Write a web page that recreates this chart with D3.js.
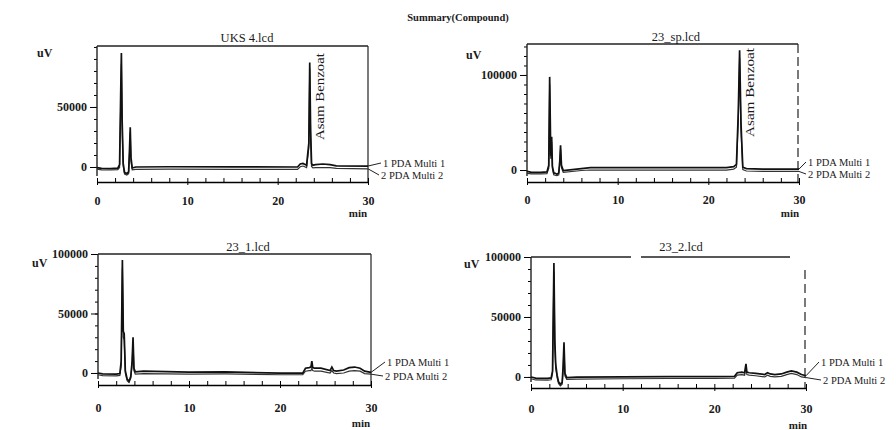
<!DOCTYPE html>
<html>
<head>
<meta charset="utf-8">
<script src="https://cdn.jsdelivr.net/npm/d3@7"></script>
<style>
body { margin: 0; background: #fff; }
svg { display: block; }
text { font-family: "Liberation Serif", serif; fill: #1a1a1a; }
</style>
</head>
<body>
<div id="chart"></div>
<script>
// ---- data (time in min, signal in uV) ----
const xTickValues = [0, 10, 20, 30];
const yTickValuesSmall = [0, 50000];
const yTickValuesBig = [0, 100000];
const yTickValuesFull = [0, 50000, 100000];

// UKS 4.lcd
const uks4Time   = [0, 0.5, 1.5, 2.3, 2.5, 2.62, 2.7, 2.78, 2.9, 3.05, 3.3, 3.5, 3.6, 3.68, 3.76, 3.9, 4.3, 8, 15, 22.2, 22.5, 22.8, 23.2, 23.45, 23.55, 23.65, 23.75, 23.9, 24.2, 25, 25.8, 26.5, 30];
const uks4Multi1 = [-500, -1200, -1300, -1000, 2000, 60000, 95000, 40000, 3000, -4500, -5500, -4000, 15000, 33000, 8000, -800, 0, 200, 100, 0, 2500, 3000, 1500, 20000, 87000, 30000, 3000, 1500, 2000, 2500, 2000, 1000, 800];
const uks4Multi2 = [-1800, -2400, -2500, -2200, -500, 50000, 86000, 34000, 800, -6000, -6800, -5500, 11000, 29000, 5000, -2300, -2000, -1800, -1900, -2000, 200, 800, -500, 16000, 82000, 24000, 500, -800, -500, -400, -600, -1200, -1500];

// 23_sp.lcd
const spTime   = [0, 0.5, 1.5, 2.2, 2.4, 2.5, 2.62, 2.72, 2.8, 2.95, 3.1, 3.3, 3.5, 3.62, 3.7, 3.8, 4.0, 6, 7, 15, 22, 22.8, 23.1, 23.3, 23.45, 23.6, 23.8, 24.2, 26, 30];
const spMulti1 = [-1500, -2500, -2500, -2000, 5000, 98000, 15000, 35000, 4000, -3000, -3500, -4500, -3000, 10000, 26000, 5000, -500, 1500, 2500, 2500, 2500, 3500, 6000, 60000, 126000, 50000, 3000, 1500, 1000, 1000];
const spMulti2 = [-3500, -4000, -4000, -3800, 2000, 90000, 12000, 30000, 1500, -5000, -5500, -6000, -5000, 7000, 22000, 2500, -2500, -500, 0, 0, 0, 1000, 3000, 52000, 118000, 42000, 500, -1000, -1500, -1500];

// 23_1.lcd
const s1Time   = [0, 0.5, 2.0, 2.4, 2.55, 2.68, 2.78, 2.88, 3.0, 3.2, 3.4, 3.6, 3.75, 3.85, 3.95, 4.1, 5, 10, 14, 20, 22.5, 22.8, 23.2, 23.4, 23.5, 23.6, 23.8, 24.5, 25.5, 25.7, 25.9, 26.2, 27, 27.6, 28.2, 28.8, 29.3, 30];
const s1Multi1 = [0, -800, -1000, -500, 10000, 95000, 35000, 33000, 2000, -5000, -7000, -3000, 10000, 30000, 4000, 1000, 1500, 800, 1000, -200, -200, 4000, 4500, 5000, 10000, 4500, 4000, 4000, 2000, 5000, 2000, 1500, 2500, 4500, 5000, 4000, 1500, 500];
const s1Multi2 = [-1500, -2200, -2400, -2000, 6000, 88000, 30000, 28000, 0, -6500, -8000, -4500, 7000, 26000, 2000, -1000, -500, -1000, -800, -1500, -1500, 1500, 2000, 2000, 4000, 2000, 1500, 1500, 0, 2000, 0, -500, 0, 1500, 2000, 1500, -500, -1000];

// 23_2.lcd
const s2Time   = [0, 0.5, 1.8, 2.2, 2.35, 2.5, 2.6, 2.7, 2.85, 3.0, 3.2, 3.4, 3.5, 3.6, 3.7, 3.9, 5, 10, 15, 20, 22.2, 22.5, 23.0, 23.3, 23.45, 23.55, 23.8, 24.5, 25.5, 25.8, 26.1, 26.6, 27.3, 27.9, 28.4, 29, 29.5, 30];
const s2Multi1 = [0, -1000, -1200, -800, 5000, 95000, 30000, 10000, 1500, -4000, -6000, -4500, 8000, 29000, 3000, -500, -200, 0, 200, 200, 500, 3500, 4000, 3500, 11000, 4000, 3500, 3000, 2000, 3500, 2500, 2000, 2500, 4000, 5000, 4000, 2000, 1000];
const s2Multi2 = [-1500, -2500, -2700, -2300, 3000, 88000, 25000, 7000, -500, -5500, -7500, -6000, 5000, 25000, 1000, -2000, -1800, -1500, -1300, -1300, -1000, 1500, 2000, 1500, 8000, 2000, 1500, 1000, 0, 1500, 500, 0, 500, 2000, 3000, 2000, 0, -500];

const channelNames = ["1 PDA Multi 1", "2 PDA Multi 2"];
const peakName = "Asam Benzoat";

// ---- layout ----
const W = 896, H = 430;

var svg = d3.select("#chart")
    .append("svg")
    .attr("width", W)
    .attr("height", H);

svg.append("text")
    .attr("x", 458)
    .attr("y", 17)
    .attr("dy", "0.35em")
    .attr("text-anchor", "middle")
    .style("font-size", "10.5px")
    .style("font-weight", "bold")
    .text("Summary(Compound)");

function drawPanel(p)
{
    var g = svg.append("g");

    var x = d3.scaleLinear()
        .domain([0, 30])
        .range([p.left, p.x30]);

    var y = d3.scaleLinear()
        .domain(p.yDomain)
        .range([p.bottom, p.top]);

    // frame: top + right edges (scan makes some of them broken)
    g.append("line")
        .attr("x1", p.left).attr("x2", p.topEnd || p.right)
        .attr("y1", p.top).attr("y2", p.top)
        .attr("stroke", "#222").attr("stroke-width", 1.4)
        .attr("stroke-dasharray", p.topDash || null);
    g.append("line")
        .attr("x1", p.right).attr("x2", p.right)
        .attr("y1", p.rightStart || p.top).attr("y2", p.bottom)
        .attr("stroke", "#222").attr("stroke-width", 1.2)
        .attr("stroke-dasharray", p.rightDash || null);

    // Y axis, minor ticks every 10000
    var yMinor = d3.range(0, p.yDomain[1] + 1, 10000);
    g.append("g")
        .attr("transform", "translate(" + p.left + ",0)")
        .call(d3.axisLeft(y).tickValues(yMinor).tickSize(3).tickFormat(""))
        .call(a => a.select(".domain").remove());
    g.append("g")
        .attr("transform", "translate(" + p.left + ",0)")
        .call(d3.axisLeft(y).tickValues(p.yTicks).tickSize(7).tickPadding(3).tickFormat(d3.format("d")))
        .call(a => a.select(".domain").remove())
        .selectAll("text")
        .style("font-size", "12px")
        .style("font-weight", "bold")
        .style("fill", "#1a1a1a")
        .style("font-family", "Liberation Serif");
    g.append("line")
        .attr("x1", p.left).attr("x2", p.left)
        .attr("y1", p.top).attr("y2", p.bottom - 6)
        .attr("stroke", "#222").attr("stroke-width", 1.4);

    // X axis, ticks every 2 min pointing up
    var xAxis = g.append("g")
        .attr("transform", "translate(0," + p.bottom + ")")
        .call(d3.axisBottom(x)
            .tickValues(d3.range(0, 31, 2))
            .tickSizeInner(-4)
            .tickSizeOuter(0)
            .tickPadding(p.labelPad)
            .tickFormat(d => xTickValues.includes(d) ? d : ""));
    xAxis.select(".domain").attr("stroke-width", 1.4);
    xAxis.selectAll("text")
        .style("font-size", "12px")
        .style("font-weight", "bold")
        .style("fill", "#1a1a1a")
        .style("font-family", "Liberation Serif");
    xAxis.selectAll(".tick")
        .filter(d => xTickValues.includes(d))
        .append("line")
        .attr("stroke", "currentColor")
        .attr("y2", 3);

    // traces
    var line = d3.line()
        .x(d => x(d[0]))
        .y(d => y(d[1]));

    g.append("path")
        .datum(p.time.map((t, i) => [t, p.multi2[i]]))
        .attr("fill", "none")
        .attr("stroke", "#333")
        .attr("stroke-width", 1.2)
        .attr("d", line);
    g.append("path")
        .datum(p.time.map((t, i) => [t, p.multi1[i]]))
        .attr("fill", "none")
        .attr("stroke", "#111")
        .attr("stroke-width", 1.7)
        .attr("d", line);

    // title, units
    g.append("text")
        .attr("x", p.titleX).attr("y", p.titleY)
        .attr("dy", "0.35em")
        .attr("text-anchor", "middle")
        .style("font-size", "12.5px")
        .text(p.title);
    g.append("text")
        .attr("x", p.uvX).attr("y", p.uvY)
        .attr("dy", "0.35em")
        .style("font-size", "12px")
        .style("font-weight", "bold")
        .text("uV");
    g.append("text")
        .attr("x", p.minX).attr("y", p.minY)
        .attr("dy", "0.35em")
        .attr("text-anchor", "middle")
        .style("font-size", "11px")
        .style("font-weight", "bold")
        .text("min");

    // channel labels with leader lines
    var endT = p.time[p.time.length - 1];
    [0, 1].forEach(k => {
        var endV = k == 0 ? p.multi1[p.multi1.length - 1] : p.multi2[p.multi2.length - 1];
        g.append("line")
            .attr("x1", x(endT)).attr("y1", y(endV))
            .attr("x2", p.legX[k] - 2).attr("y2", p.legY[k])
            .attr("stroke", "#222").attr("stroke-width", 1);
        g.append("text")
            .attr("x", p.legX[k]).attr("y", p.legY[k])
            .attr("dy", "0.35em")
            .style("font-size", "10.5px")
            .text(channelNames[k]);
    });

    // peak label, vertical
    if (p.peakX) {
        g.append("text")
            .attr("transform", "translate(" + p.peakX + "," + p.peakY + ") rotate(-90)")
            .attr("textLength", p.peakLen)
            .attr("lengthAdjust", "spacingAndGlyphs")
            .style("font-size", "12px")
            .text(peakName);
    }
}

drawPanel({
    title: "UKS 4.lcd", titleX: 247, titleY: 38,
    time: uks4Time, multi1: uks4Multi1, multi2: uks4Multi2,
    left: 97, x30: 368, right: 368, top: 46, bottom: 182,
    yDomain: [-12500, 100800], yTicks: yTickValuesSmall,
    labelPad: 14, uvX: 37, uvY: 53, minX: 358, minY: 213,
    legX: [383, 381], legY: [163, 175],
    peakX: 324, peakY: 140, peakLen: 87
});

drawPanel({
    title: "23_sp.lcd", titleX: 676, titleY: 37,
    time: spTime, multi1: spMulti1, multi2: spMulti2,
    left: 527, x30: 799, right: 798, top: 44, bottom: 182,
    yDomain: [-12600, 132600], yTicks: yTickValuesBig,
    labelPad: 13, uvX: 466, uvY: 55, minX: 790, minY: 213,
    legX: [808, 808], legY: [162, 174],
    topEnd: 798, rightDash: "9,4",
    peakX: 754, peakY: 137, peakLen: 89
});

drawPanel({
    title: "23_1.lcd", titleX: 248, titleY: 247,
    time: s1Time, multi1: s1Multi1, multi2: s1Multi2,
    left: 98, x30: 371, right: 371, top: 254, bottom: 385,
    yDomain: [-10100, 100000], yTicks: yTickValuesFull,
    labelPad: 18, uvX: 32, uvY: 263, minX: 361, minY: 423,
    legX: [387, 385], legY: [362, 376]
});

drawPanel({
    title: "23_2.lcd", titleX: 681, titleY: 247,
    time: s2Time, multi1: s2Multi1, multi2: s2Multi2,
    left: 531, x30: 806, right: 805, top: 257, bottom: 388,
    yDomain: [-9200, 100000], yTicks: yTickValuesFull,
    labelPad: 16, uvX: 464, uvY: 264, minX: 798, minY: 425,
    legX: [821, 823], legY: [362, 380],
    topEnd: 790, topDash: "100,10,150,6,40,8,30", rightStart: 270, rightDash: "9,5"
});
</script>
</body>
</html>
